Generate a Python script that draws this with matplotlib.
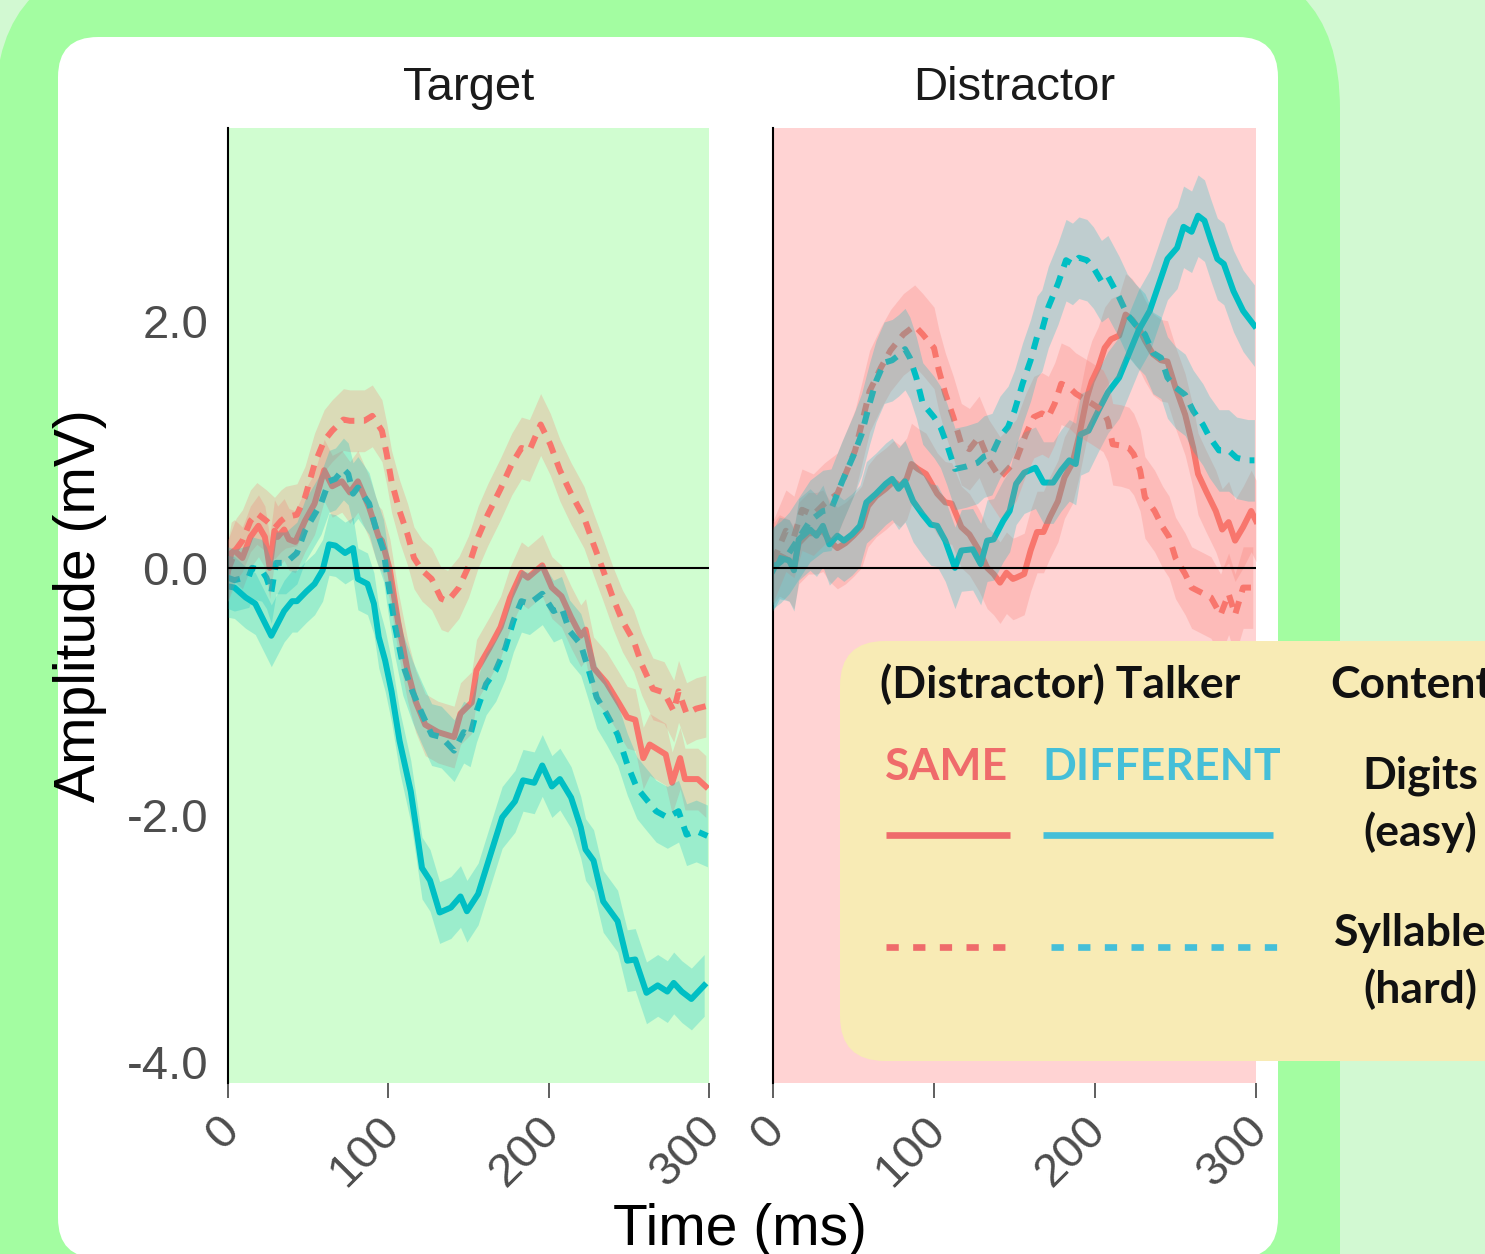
import matplotlib.pyplot as plt
import matplotlib.transforms as mtransforms
from matplotlib.patches import FancyBboxPatch
import numpy as np

plt.rcParams['font.family'] = ['Liberation Sans', 'DejaVu Sans']

# ---- data (ms, mV) ----
# Target panel
tgt_same_easy_t = [0, 2, 4, 9, 14, 19, 23, 26, 29, 31, 35, 38, 42, 48, 54, 60, 65, 71, 76, 81,
                   88, 94, 96, 101, 106, 112, 117, 123, 131, 141, 145, 152, 155, 163, 170, 176, 183, 187, 196, 202,
                   208, 214, 220, 223, 228, 236, 244, 249, 254, 259, 263, 273, 277, 282, 285, 293, 298]
tgt_same_easy = [-0.03, 0.12, 0.14, 0.08, 0.25, 0.34, 0.25, 0.00, 0.30, 0.25, 0.31, 0.23, 0.21, 0.38, 0.52, 0.79, 0.66, 0.70, 0.61, 0.70,
                 0.49, 0.25, 0.22, -0.02, -0.43, -0.83, -1.08, -1.27, -1.33, -1.37, -1.18, -1.09, -0.83, -0.65, -0.48, -0.24, -0.04, -0.08, 0.02, -0.16,
                 -0.23, -0.40, -0.55, -0.50, -0.81, -0.93, -1.10, -1.21, -1.23, -1.54, -1.43, -1.51, -1.74, -1.54, -1.71, -1.71, -1.77]

tgt_diff_easy_t = [0, 4, 11, 17, 22, 27, 35, 40, 43, 49, 54, 59, 63, 67, 73, 78, 81, 87, 91, 94,
                   98, 102, 107, 114, 118, 121, 126, 132, 139, 145, 149, 156, 163, 171, 179, 184, 191, 196, 202, 207,
                   214, 220, 223, 228, 234, 243, 249, 254, 261, 268, 274, 278, 283, 289, 297]
tgt_diff_easy = [-0.15, -0.16, -0.24, -0.29, -0.42, -0.55, -0.35, -0.27, -0.27, -0.19, -0.13, -0.02, 0.19, 0.18, 0.12, 0.16, -0.09, -0.13, -0.29, -0.56,
                 -0.75, -1.00, -1.40, -1.81, -2.16, -2.43, -2.53, -2.79, -2.75, -2.66, -2.78, -2.64, -2.35, -2.02, -1.89, -1.72, -1.74, -1.60, -1.77, -1.71,
                 -1.86, -2.10, -2.28, -2.37, -2.70, -2.86, -3.18, -3.17, -3.44, -3.38, -3.43, -3.36, -3.43, -3.49, -3.38]

tgt_same_hard_t = [0, 5, 9, 14, 18, 24, 29, 33, 36, 43, 48, 54, 60, 65, 72, 76, 85, 90, 96, 99,
                   102, 107, 112, 116, 121, 127, 133, 137, 144, 150, 156, 162, 170, 177, 183, 188, 195, 201, 207, 214,
                   222, 228, 234, 240, 246, 253, 258, 265, 272, 278, 281, 286, 292, 298]
tgt_same_hard = [-0.02, 0.15, 0.22, 0.38, 0.44, 0.38, 0.32, 0.38, 0.41, 0.43, 0.57, 0.84, 1.03, 1.11, 1.20, 1.19, 1.19, 1.23, 1.11, 0.92,
                 0.70, 0.46, 0.27, 0.08, -0.02, -0.09, -0.25, -0.27, -0.16, 0.01, 0.25, 0.43, 0.64, 0.84, 0.97, 0.95, 1.16, 1.00, 0.79, 0.60,
                 0.41, 0.19, -0.02, -0.24, -0.43, -0.59, -0.78, -0.98, -1.01, -1.16, -1.00, -1.18, -1.14, -1.12]

tgt_diff_hard_t = [0, 4, 13, 15, 21, 24, 27, 30, 36, 43, 48, 53, 58, 63, 67, 72, 75, 78, 81, 88,
                   92, 97, 100, 104, 109, 115, 121, 127, 133, 141, 147, 151, 155, 161, 167, 173, 178, 183, 188, 196,
                   203, 208, 213, 220, 225, 230, 236, 243, 249, 255, 260, 267, 274, 281, 286, 292, 299]
tgt_diff_hard = [-0.08, -0.10, -0.07, 0.00, -0.02, -0.08, -0.20, 0.04, 0.04, 0.12, 0.30, 0.41, 0.52, 0.70, 0.72, 0.80, 0.76, 0.60, 0.65, 0.52,
                 0.33, 0.14, -0.13, -0.46, -0.78, -1.00, -1.18, -1.35, -1.37, -1.48, -1.33, -1.36, -1.16, -0.94, -0.83, -0.65, -0.43, -0.27, -0.29, -0.21,
                 -0.35, -0.32, -0.51, -0.62, -0.83, -1.05, -1.18, -1.35, -1.59, -1.78, -1.86, -1.97, -2.02, -1.97, -2.16, -2.13, -2.17]

# Distractor panel
dst_same_easy_t = [0, 4, 10, 13, 16, 22, 27, 31, 35, 40, 45, 50, 55, 59, 64, 70, 75, 79, 83, 86,
                   90, 95, 102, 107, 111, 117, 122, 128, 133, 137, 141, 145, 149, 151, 156, 160, 164, 168, 172, 177,
                   181, 186, 190, 195, 198, 202, 206, 210, 215, 219, 223, 228, 231, 236, 241, 245, 250, 256, 261, 264,
                   269, 275, 279, 283, 287, 292, 297, 300]
dst_same_easy = [0.03, 0.10, 0.06, 0.00, 0.20, 0.28, 0.28, 0.30, 0.22, 0.16, 0.20, 0.26, 0.33, 0.50, 0.58, 0.64, 0.70, 0.66, 0.72, 0.84,
                 0.80, 0.76, 0.60, 0.53, 0.52, 0.33, 0.27, 0.14, 0.00, -0.05, -0.12, -0.04, -0.09, -0.08, -0.05, 0.14, 0.29, 0.29, 0.41, 0.54,
                 0.73, 0.85, 1.06, 1.38, 1.51, 1.62, 1.78, 1.85, 1.88, 2.05, 2.01, 1.92, 1.84, 1.73, 1.68, 1.67, 1.46, 1.24, 0.97, 0.76,
                 0.62, 0.46, 0.31, 0.37, 0.22, 0.33, 0.46, 0.38]

dst_diff_easy_t = [0, 4, 10, 13, 16, 23, 27, 31, 35, 40, 44, 49, 54, 58, 64, 70, 74, 78, 82, 87,
                   93, 98, 102, 107, 113, 117, 124, 129, 133, 137, 143, 147, 151, 156, 163, 168, 174, 179, 184, 188,
                   191, 196, 202, 208, 215, 221, 227, 234, 239, 245, 251, 255, 260, 264, 268, 272, 276, 280, 286, 292, 299]
dst_diff_easy = [-0.02, 0.08, 0.06, -0.02, 0.23, 0.31, 0.26, 0.34, 0.19, 0.26, 0.22, 0.27, 0.34, 0.53, 0.60, 0.68, 0.72, 0.64, 0.70, 0.54,
                 0.43, 0.35, 0.34, 0.22, 0.00, 0.14, 0.15, 0.03, 0.22, 0.23, 0.38, 0.46, 0.68, 0.77, 0.81, 0.69, 0.69, 0.79, 0.87, 0.84,
                 1.08, 1.11, 1.27, 1.42, 1.54, 1.73, 1.92, 2.08, 2.27, 2.50, 2.59, 2.76, 2.72, 2.85, 2.81, 2.65, 2.50, 2.46, 2.24, 2.08, 1.96]

dst_same_hard_t = [0, 8, 13, 18, 25, 32, 40, 46, 51, 55, 60, 67, 73, 81, 88, 93, 100, 103, 107, 112,
                   117, 122, 128, 134, 141, 146, 151, 157, 162, 167, 171, 175, 179, 184, 188, 193, 198, 205, 208, 211,
                   216, 221, 224, 228, 231, 237, 242, 246, 250, 256, 260, 266, 272, 278, 283, 287, 292, 298]
dst_same_hard = [0.05, 0.30, 0.25, 0.47, 0.43, 0.52, 0.60, 0.79, 0.95, 1.16, 1.43, 1.62, 1.76, 1.89, 1.96, 1.89, 1.78, 1.60, 1.41, 1.22,
                 1.00, 0.96, 1.06, 0.87, 0.73, 0.80, 0.87, 1.08, 1.22, 1.25, 1.22, 1.33, 1.49, 1.46, 1.41, 1.37, 1.33, 1.27, 1.19, 1.00,
                 0.99, 0.97, 0.92, 0.79, 0.57, 0.46, 0.33, 0.25, 0.08, -0.05, -0.16, -0.20, -0.24, -0.38, -0.21, -0.38, -0.16, -0.16]

dst_diff_hard_t = [0, 5, 10, 15, 23, 31, 36, 43, 50, 55, 60, 64, 69, 74, 78, 82, 85, 89, 93, 100,
                   104, 108, 113, 120, 127, 131, 136, 141, 146, 150, 155, 160, 164, 167, 171, 177, 182, 186, 190, 195,
                   199, 204, 208, 215, 220, 225, 231, 236, 241, 245, 250, 256, 261, 267, 271, 277, 283, 288, 295, 299]
dst_diff_hard = [0.00, 0.05, 0.12, 0.22, 0.38, 0.46, 0.47, 0.70, 0.91, 1.08, 1.33, 1.51, 1.66, 1.68, 1.72, 1.77, 1.70, 1.54, 1.33, 1.22,
                 1.14, 1.00, 0.80, 0.82, 0.85, 0.90, 0.92, 1.06, 1.14, 1.27, 1.49, 1.68, 1.87, 1.92, 2.11, 2.30, 2.49, 2.46, 2.51, 2.49,
                 2.43, 2.32, 2.36, 2.19, 2.05, 1.97, 1.89, 1.74, 1.70, 1.54, 1.46, 1.40, 1.27, 1.16, 1.06, 0.95, 0.95, 0.89, 0.87, 0.87]

# ribbon half widths (standard error)
se_target = 0.25
se_distractor = 0.33

panel_titles = ['Target', 'Distractor']
x_ticks = [0, 100, 200, 300]
y_ticks = [2.0, 0.0, -2.0, -4.0]
y_ticklabels = ['2.0', '0.0', '-2.0', '-4.0']

RED = '#F8766D'
TEAL = '#00BFC4'

# ---- canvas ----
W, H = 1485, 1254
fig = plt.figure(figsize=(W / 100, H / 100), dpi=100)
fig.patch.set_facecolor('#D2F9D2')

bg = fig.add_axes([0, 0, 1, 1], zorder=-5)
bg.set_xlim(0, W)
bg.set_ylim(H, 0)
bg.axis('off')
bg.add_patch(FancyBboxPatch((-5, -41), 1345, 1500, boxstyle='round,pad=0,rounding_size=150',
                            fc='#A3FDA1', ec='none'))
bg.add_patch(FancyBboxPatch((58, 37), 1220, 1221, boxstyle='round,pad=0,rounding_size=40',
                            fc='white', ec='none'))

axL = fig.add_axes([228 / W, 1 - 1083 / H, 481 / W, 955 / H])
axR = fig.add_axes([773 / W, 1 - 1083 / H, 483 / W, 955 / H])

panels = [
    (axL, '#D0FDD0', se_target,
     [(tgt_same_easy_t, tgt_same_easy, RED, '-'),
      (tgt_diff_easy_t, tgt_diff_easy, TEAL, '-'),
      (tgt_same_hard_t, tgt_same_hard, RED, '--'),
      (tgt_diff_hard_t, tgt_diff_hard, TEAL, '--')]),
    (axR, '#FFD3D3', se_distractor,
     [(dst_same_easy_t, dst_same_easy, RED, '-'),
      (dst_diff_easy_t, dst_diff_easy, TEAL, '-'),
      (dst_same_hard_t, dst_same_hard, RED, '--'),
      (dst_diff_hard_t, dst_diff_hard, TEAL, '--')]),
]

# shift rotated tick labels a little to the right of their tick
offset = mtransforms.ScaledTranslation(20 / 100, 0, fig.dpi_scale_trans)

for i, (ax, face, se, series) in enumerate(panels):
    ax.set_facecolor(face)
    for t, v, c, ls in series:
        if ls == '--':
            ax.plot(t, v, color=c, lw=4.3, dashes=(2.1, 1.6), zorder=2)
        else:
            ax.plot(t, v, color=c, lw=4.3, zorder=2)
    for t, v, c, ls in series:
        v = np.array(v)
        ax.fill_between(t, v - se, v + se, color=c, alpha=0.25, lw=0, zorder=3)
    ax.axhline(0, color='black', lw=1.5, zorder=4)

    ax.set_xlim(0, 300)
    ax.set_ylim(-4.17, 3.56)
    for s in ['top', 'right', 'bottom']:
        ax.spines[s].set_visible(False)
    ax.spines['left'].set_color('black')
    ax.spines['left'].set_linewidth(1.5)

    ax.set_xticks(x_ticks)
    ax.set_xticklabels([str(x) for x in x_ticks])
    ax.tick_params(axis='x', length=11, width=1.1, color='#333333', pad=7,
                   labelsize=34, labelcolor='#4D4D4D')
    for lab in ax.get_xticklabels():
        lab.set_rotation(45)
        lab.set_ha('right')
        lab.set_va('top')
        lab.set_transform(lab.get_transform() + offset)

    ax.set_yticks(y_ticks)
    if i == 0:
        ax.set_yticklabels(y_ticklabels)
    else:
        ax.set_yticklabels([])
    ax.tick_params(axis='y', length=0, pad=14, labelsize=34, labelcolor='#4D4D4D')
    ax.set_title(panel_titles[i], fontsize=34, pad=20, color='#1A1A1A')

fig.text(80 / W, 1 - 606 / H, 'Amplitude (mV)', rotation=90, ha='center', va='center',
         fontsize=41, color='black')
fig.text(740 / W, 1 - 1245 / H, 'Time (ms)', ha='center', va='baseline',
         fontsize=41, color='black')

# ---- legend box ----
lg = fig.add_axes([0, 0, 1, 1], zorder=10)
lg.set_xlim(0, W)
lg.set_ylim(H, 0)
lg.axis('off')
lg.add_patch(FancyBboxPatch((840, 641), 800, 420, boxstyle='round,pad=0,rounding_size=45',
                            fc='#F8EBB5', ec='none'))
LEG_RED = '#EF6B6B'
LEG_BLUE = '#45BFD8'
lfont = dict(family=['Lato', 'DejaVu Sans'], fontweight='bold', fontsize=32)
lg.text(880, 698, '(Distractor) Talker', color='#111111', va='baseline', **lfont)
lg.text(1330, 698, 'Content', color='#111111', va='baseline', **lfont)
lg.text(885, 780, 'SAME', color=LEG_RED, va='baseline', **lfont)
lg.text(1042, 780, 'DIFFERENT', color=LEG_BLUE, va='baseline', **lfont)
lg.text(1420, 788, 'Digits', color='#111111', va='baseline', ha='center', **lfont)
lg.text(1420, 846, '(easy)', color='#111111', va='baseline', ha='center', **lfont)
lg.text(1420, 946, 'Syllables', color='#111111', va='baseline', ha='center', **lfont)
lg.text(1420, 1003, '(hard)', color='#111111', va='baseline', ha='center', **lfont)
lg.plot([886, 1010], [835, 835], color=LEG_RED, lw=4.8, solid_capstyle='butt')
lg.plot([1043, 1273], [835, 835], color=LEG_BLUE, lw=4.8, solid_capstyle='butt')
lg.plot([886, 1007], [947, 947], color=LEG_RED, lw=4.8, dashes=(1.84, 2.16))
lg.plot([1051, 1280], [947, 947], color=LEG_BLUE, lw=4.8, dashes=(1.84, 2.16))

fig.savefig('out.png', dpi=100, facecolor=fig.get_facecolor())
